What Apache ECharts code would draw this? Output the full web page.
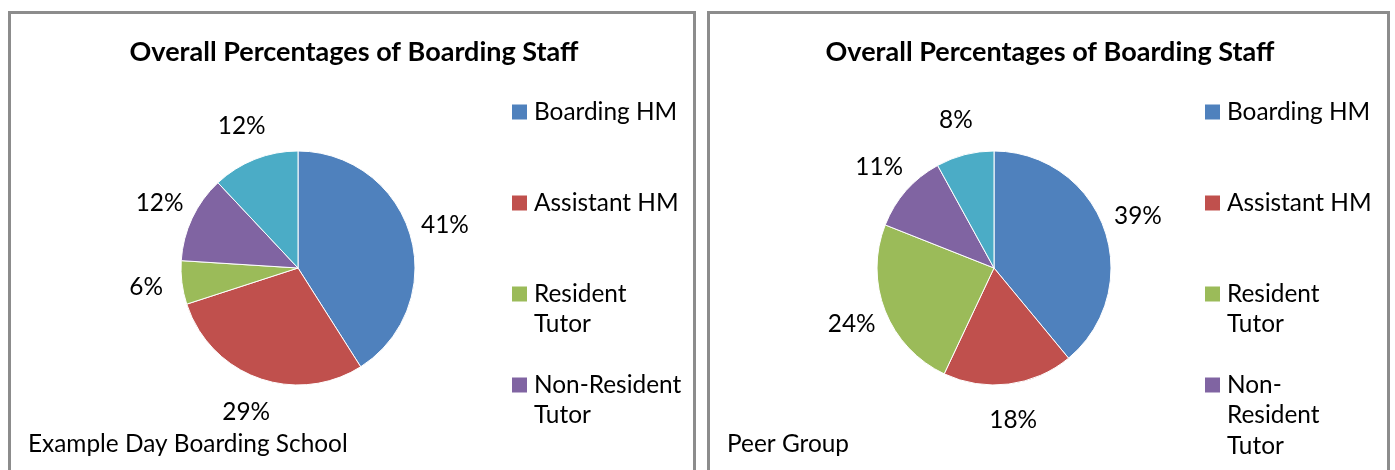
<!DOCTYPE html>
<html>
<head>
<meta charset="utf-8">
<script src="https://cdn.jsdelivr.net/npm/echarts@6/dist/echarts.min.js"></script>
<style>
html, body { margin: 0; padding: 0; background: #fff; }
#chart-container { width: 1395px; height: 470px; }
</style>
</head>
<body>
<div id="chart-container"></div>
<script>
// chart data
const chartTitle = 'Overall Percentages of Boarding Staff';
const categories = ['Boarding HM', 'Assistant HM', 'Resident Tutor', 'Non-Resident Tutor', 'Other'];
const legendItems = ['Boarding HM', 'Assistant HM', 'Resident Tutor', 'Non-Resident Tutor'];
const schoolName = 'Example Day Boarding School';
const schoolValues = [41, 29, 6, 12, 12];
const peerName = 'Peer Group';
const peerValues = [39, 18, 24, 11, 8];
const colors = ['#4F81BD', '#C0504D', '#9BBB59', '#8064A2', '#4BACC6'];

const FONT = 'Lato';
const FONT_SIZE = 24.4;
const LINE_H = 30.5;
const LEGEND_LINES = 3;

// layout of the two boxes
const panels = [
    { x: 8, w: 688, name: schoolName, values: schoolValues, cx: 298, cy: 268, titleX: 354, legendX: 506, wrap: 150 },
    { x: 707, w: 683, name: peerName, values: peerValues, cx: 994, cy: 268, titleX: 1050, legendX: 1199, wrap: 144.8 }
];

const measureCtx = document.createElement('canvas').getContext('2d');
measureCtx.font = FONT_SIZE + 'px ' + FONT;

/**
 * wrap legend text like excel does (spaces and hyphens)
 */
function wrapText(text, maxWidth) {
    const parts = text.match(/[^\s-]+-?|\s+/g) || [];
    const lines = [];
    let line = '';
    parts.forEach(function (p) {
        if (/^\s+$/.test(p)) {
            if (line) line += ' ';
            return;
        }
        const test = line + p;
        if (line && measureCtx.measureText(test.trim()).width > maxWidth) {
            lines.push(line.trim());
            line = p;
        } else {
            line = test;
        }
    });
    if (line) lines.push(line.trim());
    return lines;
}

const richLegend = {
    s: { width: 15, height: 15, lineHeight: LINE_H },
    t: { fontFamily: FONT, fontSize: FONT_SIZE, color: '#000', lineHeight: LINE_H, padding: [0, 0, 0, 7] }
};
colors.forEach(function (c, i) {
    richLegend['m' + i] = { width: 15, height: 15, lineHeight: LINE_H, backgroundColor: c };
});

function pieData(values) {
    return values.map(function (v, i) {
        return { name: categories[i], value: v, itemStyle: { color: colors[i] } };
    });
}

const option = {
    animation: false,
    backgroundColor: '#fff',
    graphic: panels.map(function (p) {
        return {
            type: 'rect',
            silent: true,
            shape: { x: p.x + 1.5, y: 12.5, width: p.w - 3, height: 500 },
            style: { fill: 'none', stroke: '#8c8c8c', lineWidth: 3 }
        };
    }),
    title: panels.map(function (p) {
        return {
            text: chartTitle,
            left: p.titleX,
            top: 36,
            textAlign: 'center',
            padding: 0,
            textStyle: { fontFamily: FONT, fontWeight: 'bold', fontSize: 27, color: '#000', lineHeight: 32 }
        };
    }).concat(panels.map(function (p) {
        return {
            text: p.name,
            left: p.x + 20,
            top: 429,
            padding: 0,
            textStyle: { fontFamily: FONT, fontWeight: 'normal', fontSize: FONT_SIZE, color: '#000', lineHeight: 30 }
        };
    })),
    legend: panels.map(function (p) {
        return {
            orient: 'vertical',
            left: p.legendX,
            top: 100,
            padding: 0,
            itemGap: 10.5,
            itemWidth: 0,
            itemHeight: 0,
            selectedMode: false,
            data: legendItems,
            textStyle: { rich: richLegend },
            formatter: function (name) {
                const idx = categories.indexOf(name);
                const rows = wrapText(name, p.wrap).map(function (ln, i) {
                    return (i === 0 ? '{m' + idx + '|}' : '{s|}') + '{t|' + ln + '}';
                });
                // every entry gets the same slot height
                while (rows.length < LEGEND_LINES) rows.push('{s|}');
                return rows.join('\n');
            }
        };
    }),
    series: []
};

panels.forEach(function (p) {
    // the pie itself
    option.series.push({
        type: 'pie',
        name: p.name,
        center: [p.cx, p.cy],
        radius: 117,
        startAngle: 90,
        clockwise: true,
        silent: true,
        label: { show: false },
        labelLine: { show: false },
        itemStyle: { borderColor: '#fff', borderWidth: 1 },
        emphasis: { disabled: true },
        data: pieData(p.values)
    });
    // transparent ring just carrying the centred percentage labels
    option.series.push({
        type: 'pie',
        name: p.name + ' labels',
        center: [p.cx, p.cy],
        radius: [117, 183],
        startAngle: 90,
        clockwise: true,
        silent: true,
        itemStyle: { color: 'rgba(0,0,0,0)' },
        emphasis: { disabled: true },
        label: {
            show: true,
            position: 'inside',
            formatter: '{c}%',
            fontFamily: FONT,
            fontSize: FONT_SIZE,
            color: '#000'
        },
        labelLine: { show: false },
        data: p.values.map(function (v, i) {
            return { name: categories[i], value: v };
        })
    });
});

const chart = echarts.init(document.querySelector('#chart-container'), null, { renderer: 'canvas' });
chart.setOption(option);
</script>
</body>
</html>
